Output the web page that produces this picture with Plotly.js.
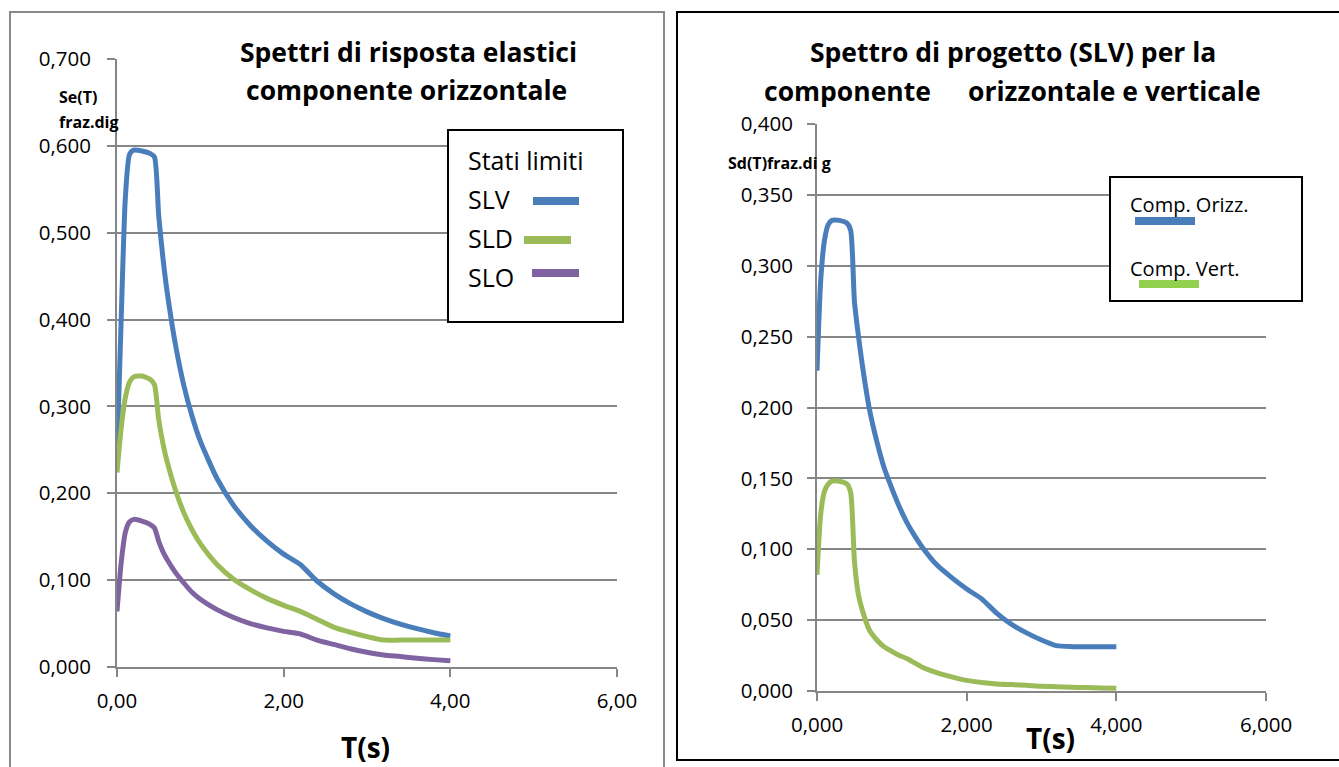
<!DOCTYPE html>
<html>
<head>
<meta charset="utf-8">
<script src="https://cdn.plot.ly/plotly-3.0.1.min.js"></script>
<style>html,body{margin:0;padding:0;background:#fff;}#chart{width:1339px;height:767px;}</style>
</head>
<body>
<div id="chart"></div>
<script>
// ---------- Data ----------
// Left chart: Spettri di risposta elastici, componente orizzontale
const T_left = [0, 0.05, 0.1, 0.15, 0.2, 0.3, 0.4, 0.45, 0.5, 0.55, 0.6, 0.7, 0.8, 0.9, 1.0, 1.2, 1.4, 1.6, 1.8, 2.0, 2.2, 2.4, 2.6, 2.8, 3.0, 3.2, 3.4, 3.6, 3.8, 4.0];
const SLV = [0.245, 0.40, 0.54, 0.59, 0.595, 0.594, 0.591, 0.587, 0.52, 0.472, 0.433, 0.372, 0.325, 0.289, 0.260, 0.217, 0.186, 0.163, 0.145, 0.130, 0.118, 0.099, 0.0845, 0.0729, 0.0635, 0.0558, 0.0494, 0.0441, 0.0395, 0.0357];
const SLD = [0.224, 0.275, 0.31, 0.328, 0.334, 0.335, 0.331, 0.325, 0.285, 0.258, 0.237, 0.204, 0.178, 0.158, 0.142, 0.118, 0.101, 0.089, 0.079, 0.071, 0.064, 0.055, 0.046, 0.040, 0.035, 0.031, 0.031, 0.031, 0.031, 0.031];
const SLO = [0.064, 0.12, 0.155, 0.167, 0.170, 0.168, 0.164, 0.160, 0.145, 0.133, 0.124, 0.109, 0.097, 0.086, 0.078, 0.066, 0.057, 0.050, 0.045, 0.041, 0.038, 0.031, 0.026, 0.021, 0.017, 0.0138, 0.012, 0.010, 0.0085, 0.0073];
const leftNames = ["SLV", "SLD", "SLO"];

// Right chart: Spettro di progetto (SLV)
const T_right = [0, 0.05, 0.1, 0.15, 0.2, 0.3, 0.4, 0.45, 0.5, 0.55, 0.6, 0.7, 0.8, 0.9, 1.0, 1.1, 1.2, 1.3, 1.4, 1.6, 1.8, 2.0, 2.2, 2.4, 2.6, 2.8, 3.0, 3.2, 3.4, 3.6, 3.8, 4.0];
const Orizz = [0.226, 0.29, 0.318, 0.329, 0.332, 0.332, 0.330, 0.325, 0.275, 0.252, 0.232, 0.199, 0.176, 0.157, 0.143, 0.130, 0.119, 0.110, 0.102, 0.089, 0.080, 0.072, 0.065, 0.055, 0.047, 0.041, 0.036, 0.032, 0.0313, 0.0313, 0.0313, 0.0313];
const Vert = [0.082, 0.125, 0.141, 0.146, 0.148, 0.148, 0.146, 0.140, 0.092, 0.069, 0.058, 0.043, 0.036, 0.031, 0.028, 0.025, 0.023, 0.020, 0.017, 0.013, 0.010, 0.0075, 0.006, 0.005, 0.0045, 0.004, 0.0033, 0.003, 0.0026, 0.0024, 0.0022, 0.002];
const rightNames = ["Comp. Orizz.", "Comp. Vert."];

const xTicks = [0, 2, 4, 6];

// ---------- Styling ----------
const W = 1339, H = 767;
const px = x => x / W;
const py = y => 1 - y / H;
const GRID = '#868686';
const FONT = '"Open Sans", "Noto Sans", sans-serif';
const colLeft = ['#4a7ebb', '#9bbb59', '#8064a2'];
const colRight = ['#4a7ebb', '#9bbb59'];

const traces = [
  {x: T_left, y: SLV, name: leftNames[0], xaxis: 'x', yaxis: 'y', mode: 'lines', line: {color: colLeft[0], width: 5, shape: 'spline', smoothing: 0.6}},
  {x: T_left, y: SLD, name: leftNames[1], xaxis: 'x', yaxis: 'y', mode: 'lines', line: {color: colLeft[1], width: 5, shape: 'spline', smoothing: 0.6}},
  {x: T_left, y: SLO, name: leftNames[2], xaxis: 'x', yaxis: 'y', mode: 'lines', line: {color: colLeft[2], width: 5, shape: 'spline', smoothing: 0.6}},
  {x: T_right, y: Orizz, name: rightNames[0], xaxis: 'x2', yaxis: 'y2', mode: 'lines', line: {color: colRight[0], width: 5, shape: 'spline', smoothing: 0.6}},
  {x: T_right, y: Vert, name: rightNames[1], xaxis: 'x2', yaxis: 'y2', mode: 'lines', line: {color: colRight[1], width: 5, shape: 'spline', smoothing: 0.6}}
];

const axisCommon = {
  showline: true, linecolor: GRID, linewidth: 2,
  ticks: 'outside', ticklen: 8, tickwidth: 2, tickcolor: GRID,
  tickfont: {family: FONT, size: 20.5, color: '#000'},
  zeroline: false
};

const layout = {
  width: W, height: H,
  margin: {l: 0, r: 0, t: 0, b: 0},
  paper_bgcolor: '#fff', plot_bgcolor: '#fff',
  separators: ',.',
  showlegend: false,
  font: {family: FONT, color: '#000'},
  xaxis: Object.assign({}, axisCommon, {domain: [px(117), px(617)], range: [0, 6], tickvals: xTicks, tickformat: '.2f', showgrid: false, anchor: 'y', ticklabelstandoff: 6}),
  yaxis: Object.assign({}, axisCommon, {domain: [py(667), py(59)], range: [0, 0.7], dtick: 0.1, tick0: 0, tickformat: '.3f', showgrid: true, gridcolor: GRID, gridwidth: 2, anchor: 'x', ticklabelstandoff: 12}),
  xaxis2: Object.assign({}, axisCommon, {domain: [px(817), px(1266)], range: [0, 6], tickvals: xTicks, tickformat: '.3f', showgrid: false, anchor: 'y2', ticklabelstandoff: 6}),
  yaxis2: Object.assign({}, axisCommon, {domain: [py(691), py(124)], range: [0, 0.4], dtick: 0.05, tick0: 0, tickformat: '.3f', showgrid: true, gridcolor: GRID, gridwidth: 2, anchor: 'x2', ticklabelstandoff: 10}),
  shapes: [
    // chart frames
    {type: 'rect', xref: 'paper', yref: 'paper', x0: px(10), x1: px(664), y0: -0.02, y1: py(12), line: {color: '#8a8a8a', width: 2}},
    {type: 'rect', xref: 'paper', yref: 'paper', x0: px(677), x1: 1.02, y0: py(760), y1: py(12), line: {color: '#000', width: 2}},
    // legend boxes
    {type: 'rect', xref: 'paper', yref: 'paper', x0: px(448), x1: px(623), y0: py(322), y1: py(130), line: {color: '#000', width: 2}, fillcolor: '#fff'},
    {type: 'rect', xref: 'paper', yref: 'paper', x0: px(1110), x1: px(1302), y0: py(301), y1: py(177), line: {color: '#000', width: 2}, fillcolor: '#fff'},
    // legend samples left
    {type: 'line', xref: 'paper', yref: 'paper', x0: px(533), x1: px(579), y0: py(201), y1: py(201), line: {color: colLeft[0], width: 8}},
    {type: 'line', xref: 'paper', yref: 'paper', x0: px(524), x1: px(571), y0: py(240), y1: py(240), line: {color: colLeft[1], width: 8}},
    {type: 'line', xref: 'paper', yref: 'paper', x0: px(532), x1: px(579), y0: py(273), y1: py(273), line: {color: colLeft[2], width: 8}},
    // legend samples right
    {type: 'line', xref: 'paper', yref: 'paper', x0: px(1135), x1: px(1195), y0: py(221), y1: py(221), line: {color: colRight[0], width: 8}},
    {type: 'line', xref: 'paper', yref: 'paper', x0: px(1139), x1: px(1199), y0: py(284), y1: py(284), line: {color: '#92d050', width: 8}}
  ],
  annotations: [
    // left title
    {xref: 'paper', yref: 'paper', x: px(408), y: py(52), text: '<b>Spettri di risposta elastici</b>', showarrow: false, xanchor: 'center', yanchor: 'middle', font: {family: FONT, size: 26.5}},
    {xref: 'paper', yref: 'paper', x: px(406), y: py(90), text: '<b>componente orizzontale</b>', showarrow: false, xanchor: 'center', yanchor: 'middle', font: {family: FONT, size: 26.5}},
    // left y title
    {xref: 'paper', yref: 'paper', x: px(57), y: py(97), text: '<b>Se(T)</b>', showarrow: false, xanchor: 'left', yanchor: 'middle', font: {family: FONT, size: 16}},
    {xref: 'paper', yref: 'paper', x: px(57), y: py(122), text: '<b>fraz.dig</b>', showarrow: false, xanchor: 'left', yanchor: 'middle', font: {family: FONT, size: 16}},
    // left x title
    {xref: 'paper', yref: 'paper', x: px(365), y: py(747), text: '<b>T(s)</b>', showarrow: false, xanchor: 'center', yanchor: 'middle', font: {family: FONT, size: 28}},
    // left legend text
    {xref: 'paper', yref: 'paper', x: px(466), y: py(160), text: 'Stati limiti', showarrow: false, xanchor: 'left', yanchor: 'middle', font: {family: FONT, size: 25}},
    {xref: 'paper', yref: 'paper', x: px(466), y: py(199), text: leftNames[0], showarrow: false, xanchor: 'left', yanchor: 'middle', font: {family: FONT, size: 25}},
    {xref: 'paper', yref: 'paper', x: px(466), y: py(238), text: leftNames[1], showarrow: false, xanchor: 'left', yanchor: 'middle', font: {family: FONT, size: 25}},
    {xref: 'paper', yref: 'paper', x: px(466), y: py(277), text: leftNames[2], showarrow: false, xanchor: 'left', yanchor: 'middle', font: {family: FONT, size: 25}},
    // right title
    {xref: 'paper', yref: 'paper', x: px(1013), y: py(52), text: '<b>Spettro di progetto (SLV) per la</b>', showarrow: false, xanchor: 'center', yanchor: 'middle', font: {family: FONT, size: 26.5}},
    {xref: 'paper', yref: 'paper', x: px(762), y: py(91), text: '<b>componente</b>', showarrow: false, xanchor: 'left', yanchor: 'middle', font: {family: FONT, size: 26.5}},
    {xref: 'paper', yref: 'paper', x: px(1263), y: py(91), text: '<b>orizzontale e verticale</b>', showarrow: false, xanchor: 'right', yanchor: 'middle', font: {family: FONT, size: 26.5}},
    // right y title
    {xref: 'paper', yref: 'paper', x: px(726), y: py(163), text: '<b>Sd(T)fraz.di g</b>', showarrow: false, xanchor: 'left', yanchor: 'middle', font: {family: FONT, size: 16}},
    // right x title
    {xref: 'paper', yref: 'paper', x: px(1050), y: py(738), text: '<b>T(s)</b>', showarrow: false, xanchor: 'center', yanchor: 'middle', font: {family: FONT, size: 28}},
    // right legend text
    {xref: 'paper', yref: 'paper', x: px(1128), y: py(204), text: rightNames[0], showarrow: false, xanchor: 'left', yanchor: 'middle', font: {family: FONT, size: 20}},
    {xref: 'paper', yref: 'paper', x: px(1128), y: py(268), text: rightNames[1], showarrow: false, xanchor: 'left', yanchor: 'middle', font: {family: FONT, size: 20}}
  ]
};

Plotly.newPlot('chart', traces, layout, {staticPlot: true, displayModeBar: false});
</script>
</body>
</html>
